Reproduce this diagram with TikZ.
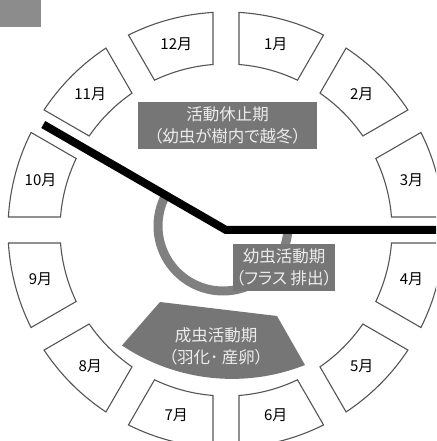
\documentclass[tikz,border=0pt]{standalone}
\usepackage{fontspec}
\setmainfont{Noto Sans CJK JP}
\newfontfamily\boxfont[RawFeature={+palt}]{Noto Sans CJK JP}
\usetikzlibrary{calc}
\definecolor{segline}{RGB}{85,85,85}
\definecolor{boxgray}{RGB}{118,118,118}
\definecolor{ringgray}{RGB}{128,128,128}
\definecolor{boxtext}{RGB}{236,236,236}
\definecolor{cornergray}{RGB}{140,140,140}
\begin{document}
\begin{tikzpicture}[x=1pt,y=1pt,
  seg/.style={draw=segline, line width=1.1pt, fill=white, line join=miter},
  mlabel/.style={font=\fontsize{15}{17}\selectfont, text=black, inner sep=0pt},
  ringarc/.style={draw=ringgray, line width=9pt},
  blackline/.style={draw=black, line width=8pt, line join=miter},
  graybox/.style={fill=boxgray, text=boxtext, inner sep=0pt, align=center,
    font=\boxfont\fontsize{16.5}{22}\selectfont},
  sectorfill/.style={fill=boxgray}
]
\useasboundingbox (0,0) rectangle (436,441);
\clip (0,0) rectangle (436,441);
\fill[cornergray] (0,414) rectangle (41,441);
\coordinate (C) at (226,211);
\coordinate (R) at (223,215);
\foreach \m in {1,...,12} {
  \pgfmathsetmacro\a{90-30*(\m-1)}
  \pgfmathsetmacro\oa{\a-3.42}
  \pgfmathsetmacro\ob{\a-26.58}
  \pgfmathsetmacro\ia{\a-25.51}
  \pgfmathsetmacro\ib{\a-4.49}
  \pgfmathsetmacro\la{\a-15}
  \draw[seg] ($(C)+(\oa:218)$) arc[start angle=\oa, end angle=\ob, radius=218]
     -- ($(C)+(\ia:166)$) arc[start angle=\ia, end angle=\ib, radius=166] -- cycle;
  \node[mlabel] (m\m) at ($(C)+(\la:192)$) {\m{}月};
}
% gray ring
\draw[ringarc] ($(R)+(150:65)$) arc[start angle=150, end angle=355, radius=65];
% black line
\coordinate (L1) at ($(C)+(150:211)$);
\coordinate (L2) at (450,211);
\draw[blackline] (L1) -- (C) -- (L2);
% boxes
\node[graybox, minimum width=179pt, minimum height=47pt] (b1) at (227.5,315.5)
  {活動休止期\\（幼虫が樹内で越冬）};
\node[graybox, minimum width=102pt, minimum height=47pt] (b2) at (284,173.5)
  {幼虫活動期\\（フラス 排出）};
% adult sector
\fill[sectorfill] (160,139) -- (277,125) -- (305,76)
  arc[start angle=-68.4, end angle=-123.8, radius=198] -- cycle;
\node[graybox, fill=none] (b3) at (216,94.5) {成虫活動期\\（羽化･ 産卵）};
\end{tikzpicture}
\end{document}
